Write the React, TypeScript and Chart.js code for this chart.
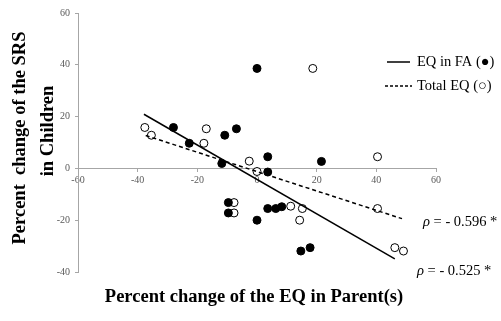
import React, { useEffect, useRef } from 'react';
import { Chart, registerables } from 'chart.js';

Chart.register(...registerables);

// Data
const faX = [0, -28, -22.7, -10.8, -6.9, -11.8, 3.6, 3.6, 21.6, -9.6, -9.6, 0, 3.6, 6.3, 8.3, 14.7, 17.8];
const faY = [38.6, 15.8, 9.7, 12.8, 15.3, 1.9, 4.5, -1.4, 2.7, -13.2, -17.2, -20, -15.5, -15.5, -14.8, -31.9, -30.6];
const totalX = [-37.6, -35.4, -17, -17.8, -2.6, 0, 18.7, 40.4, -7.7, -7.7, 11.3, 15.2, 14.3, 40.4, 46.2, 49.1];
const totalY = [15.8, 12.8, 15.3, 9.7, 2.8, -1.2, 38.6, 4.5, -13.2, -17.2, -14.6, -15.5, -20, -15.5, -30.6, -31.9];
const faTrendX = [-37.9, 46.2];
const faTrendY = [20.9, -34.9];
const totalTrendX = [-37.3, 48.6];
const totalTrendY = [12.7, -19.4];

const xMin = -60;
const xMax = 60;
const yMin = -40;
const yMax = 60;
const tickStep = 20;

const seriesLabels = ['EQ in FA (●)', 'Total EQ (○)'];
const rhoValues = ['- 0.596 *', '- 0.525 *'];
const xTitle = 'Percent change of the EQ in Parent(s)';
const yTitle = ['Percent  change of the SRS', 'in Children'];

const SERIF = "'Liberation Serif', 'Times New Roman', serif";
const AXIS_COLOR = '#a6a6a6';
const TICK_COLOR = '#595959';

const zip = (xs: number[], ys: number[]) => xs.map((x, i) => ({ x, y: ys[i] }));

const textPlugin = {
  id: 'textPlugin',
  afterDraw(chart: any) {
    const ctx = chart.ctx as CanvasRenderingContext2D;
    ctx.save();
    ctx.fillStyle = '#000';
    ctx.strokeStyle = '#000';

    // Legend
    ctx.lineWidth = 1.5;
    ctx.setLineDash([]);
    ctx.beginPath();
    ctx.moveTo(387, 62);
    ctx.lineTo(410, 62);
    ctx.stroke();
    ctx.setLineDash([3, 2]);
    ctx.beginPath();
    ctx.moveTo(385, 86);
    ctx.lineTo(412, 86);
    ctx.stroke();
    ctx.setLineDash([]);
    ctx.font = `14.5px ${SERIF}`;
    ctx.textBaseline = 'middle';
    ctx.textAlign = 'left';
    ctx.fillText(seriesLabels[0], 417, 62);
    ctx.fillText(seriesLabels[1], 417, 86);

    // rho annotations
    const rhoPos = [
      [423, 222],
      [417, 271],
    ];
    rhoValues.forEach((v, i) => {
      const [x, y] = rhoPos[i];
      ctx.font = `italic 14.5px ${SERIF}`;
      ctx.fillText('ρ', x, y);
      const w = ctx.measureText('ρ').width;
      ctx.font = `14.5px ${SERIF}`;
      ctx.fillText(' = ' + v, x + w, y);
    });

    // Axis titles
    ctx.font = `bold 18.5px ${SERIF}`;
    ctx.textAlign = 'center';
    ctx.fillText(xTitle, 254, 297);

    ctx.save();
    ctx.translate(20, 138);
    ctx.rotate(-Math.PI / 2);
    ctx.fillText(yTitle[0], 0, 0);
    ctx.restore();
    ctx.save();
    ctx.translate(48, 131);
    ctx.rotate(-Math.PI / 2);
    ctx.fillText(yTitle[1], 0, 0);
    ctx.restore();

    ctx.restore();
  },
};

export default function App() {
  const ref = useRef<HTMLCanvasElement | null>(null);

  useEffect(() => {
    if (!ref.current) return;
    const chart = new Chart(ref.current, {
      type: 'scatter',
      data: {
        datasets: [
          {
            label: 'EQ in FA trend',
            data: zip(faTrendX, faTrendY),
            showLine: true,
            borderColor: '#000',
            borderWidth: 1.5,
            pointRadius: 0,
            fill: false,
          },
          {
            label: 'Total EQ trend',
            data: zip(totalTrendX, totalTrendY),
            showLine: true,
            borderColor: '#000',
            borderWidth: 1.5,
            borderDash: [4, 3],
            pointRadius: 0,
            fill: false,
          },
          {
            label: 'EQ in FA',
            data: zip(faX, faY),
            backgroundColor: '#000',
            borderColor: '#000',
            borderWidth: 1,
            pointRadius: 4,
          },
          {
            label: 'Total EQ',
            data: zip(totalX, totalY),
            backgroundColor: '#fff',
            borderColor: '#000',
            borderWidth: 1,
            pointRadius: 4,
          },
        ],
      },
      options: {
        responsive: false,
        animation: false,
        layout: { padding: { top: 13, right: 65, bottom: 49, left: 0 } },
        plugins: {
          legend: { display: false },
          tooltip: { enabled: false },
        },
        scales: {
          x: {
            type: 'linear',
            position: { y: 0 } as any,
            min: xMin,
            max: xMax,
            ticks: {
              stepSize: tickStep,
              font: { family: SERIF, size: 10 },
              color: TICK_COLOR,
              padding: 3,
            },
            grid: {
              display: true,
              drawOnChartArea: false,
              drawTicks: true,
              tickLength: 3,
              color: AXIS_COLOR,
            },
            border: { display: true, color: AXIS_COLOR, width: 1 },
          },
          y: {
            type: 'linear',
            position: 'left',
            min: yMin,
            max: yMax,
            afterFit: (scale: any) => {
              scale.width = 78;
            },
            ticks: {
              stepSize: tickStep,
              font: { family: SERIF, size: 10 },
              color: TICK_COLOR,
              padding: 5,
            },
            grid: {
              display: true,
              drawOnChartArea: false,
              drawTicks: true,
              tickLength: 3,
              color: AXIS_COLOR,
            },
            border: { display: true, color: AXIS_COLOR, width: 1 },
          },
        },
      },
      plugins: [textPlugin],
    });
    return () => chart.destroy();
  }, []);

  return (
    <div style={{ position: 'absolute', left: 0, top: 0, width: 501, height: 321, background: '#fff' }}>
      <canvas ref={ref} width={501} height={321} style={{ display: 'block' }} />
    </div>
  );
}
